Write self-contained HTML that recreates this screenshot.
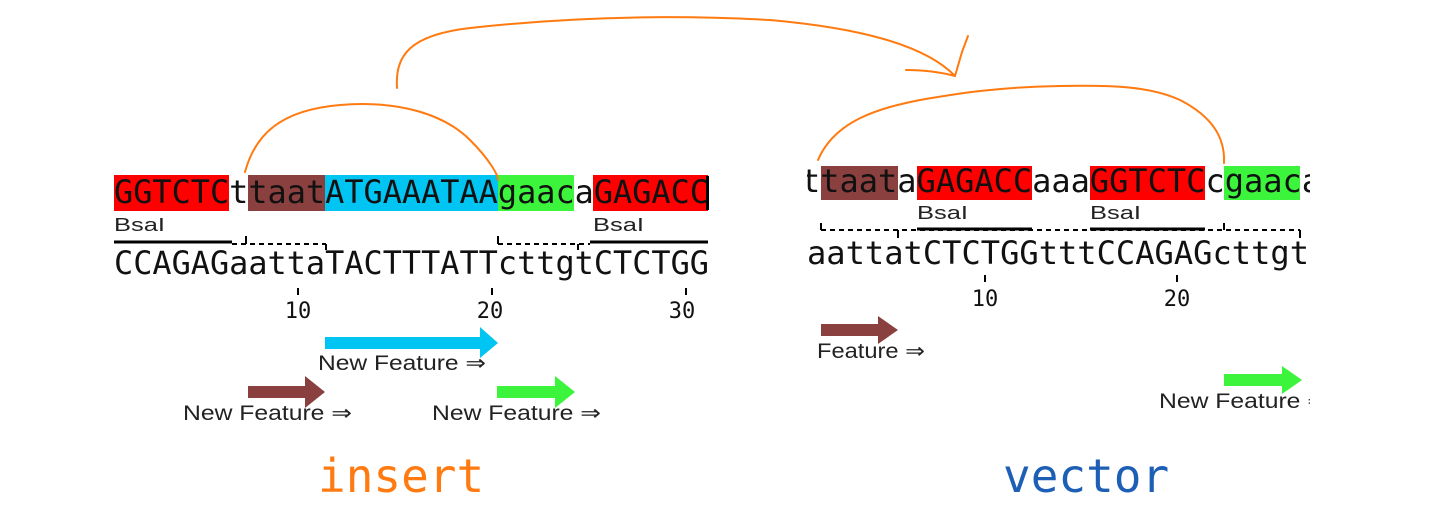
<!DOCTYPE html>
<html><head><meta charset="utf-8"><style>
html,body{margin:0;padding:0;background:#fff;}
svg{display:block}
.m{font-family:"DejaVu Sans Mono","Liberation Mono",monospace;font-size:32px;fill:#111}
.s{font-family:"Liberation Sans",sans-serif;font-size:18px;fill:#222}
.f{font-family:"Liberation Sans",sans-serif;font-size:21px;fill:#222}
.n{font-family:"DejaVu Sans Mono","Liberation Mono",monospace;font-size:22px;fill:#111}
</style></head><body>
<svg width="1453" height="517" viewBox="0 0 1453 517" xmlns="http://www.w3.org/2000/svg">
<defs><clipPath id="vc"><rect x="807" y="0" width="503" height="517"/></clipPath></defs>
<!-- INSERT -->
<rect x="114" y="175" width="115" height="36" fill="#ff0000"/>
<rect x="248" y="175" width="77" height="36" fill="#8b4040"/>
<rect x="325" y="175" width="173" height="36" fill="#00c4f2"/>
<rect x="498" y="175" width="76" height="36" fill="#3cf43c"/>
<rect x="593" y="175" width="115" height="36" fill="#ff0000"/>
<rect x="706" y="176" width="3" height="34" fill="#000"/>
<text x="114" y="203" class="m" textLength="595" lengthAdjust="spacingAndGlyphs">GGTCTCttaatATGAAATAAgaacaGAGACC</text>
<text x="114" y="231" class="s" textLength="51" lengthAdjust="spacingAndGlyphs">BsaI</text>
<text x="593" y="231" class="s" textLength="51" lengthAdjust="spacingAndGlyphs">BsaI</text>
<g stroke="#000" stroke-width="3"><line x1="114" y1="242" x2="232" y2="242"/><line x1="590" y1="242" x2="708" y2="242"/></g>
<g stroke="#000" stroke-width="2" stroke-dasharray="5,4" fill="none"><line x1="232" y1="244" x2="326" y2="244"/><line x1="498" y1="244" x2="590" y2="244"/></g>
<g stroke="#000" stroke-width="2"><line x1="246" y1="236" x2="246" y2="244"/><line x1="326" y1="244" x2="326" y2="250"/><line x1="498" y1="236" x2="498" y2="244"/><line x1="578" y1="244" x2="578" y2="250"/></g>
<text x="114" y="274" class="m" textLength="595" lengthAdjust="spacingAndGlyphs">CCAGAGaattaTACTTTATTcttgtCTCTGG</text>
<g stroke="#000" stroke-width="2"><line x1="298" y1="288" x2="298" y2="295"/><line x1="492" y1="288" x2="492" y2="295"/><line x1="686" y1="288" x2="686" y2="295"/></g>
<text x="298" y="318" class="n" text-anchor="middle">10</text>
<text x="490" y="318" class="n" text-anchor="middle">20</text>
<text x="682" y="318" class="n" text-anchor="middle">30</text>
<polygon points="325,337 480,337 480,327 498,343 480,358 480,349 325,349" fill="#00c4f2"/>
<text x="318" y="370" class="f" textLength="168" lengthAdjust="spacingAndGlyphs">New Feature ⇒</text>
<polygon points="248,386 305,386 305,376 325,392 305,408 305,398 248,398" fill="#8b4040"/>
<text x="183" y="420" class="f" textLength="169" lengthAdjust="spacingAndGlyphs">New Feature ⇒</text>
<polygon points="497,386 555,386 555,376 575,392 555,408 555,398 497,398" fill="#3cf43c"/>
<text x="432" y="420" class="f" textLength="169" lengthAdjust="spacingAndGlyphs">New Feature ⇒</text>
<!-- VECTOR -->
<g clip-path="url(#vc)">
<rect x="821" y="166" width="77" height="34" fill="#8b4040"/>
<rect x="917" y="166" width="115" height="34" fill="#ff0000"/>
<rect x="1090" y="166" width="115" height="34" fill="#ff0000"/>
<rect x="1224" y="166" width="76" height="34" fill="#3cf43c"/>
<text x="801" y="192" class="m" textLength="520" lengthAdjust="spacingAndGlyphs">ttaataGAGACCaaaGGTCTCcgaaca</text>
<text x="917" y="219" class="s" textLength="51" lengthAdjust="spacingAndGlyphs">BsaI</text>
<text x="1090" y="219" class="s" textLength="51" lengthAdjust="spacingAndGlyphs">BsaI</text>
<g stroke="#000" stroke-width="2" stroke-dasharray="5,4"><line x1="821" y1="230" x2="1300" y2="230"/></g>
<g stroke="#000" stroke-width="3"><line x1="917" y1="229" x2="1032" y2="229"/><line x1="1090" y1="229" x2="1205" y2="229"/></g>
<g stroke="#000" stroke-width="2"><line x1="821" y1="223" x2="821" y2="230"/><line x1="898" y1="230" x2="898" y2="238"/><line x1="1224" y1="223" x2="1224" y2="230"/><line x1="1300" y1="230" x2="1300" y2="238"/></g>
<text x="807" y="264" class="m" textLength="502" lengthAdjust="spacingAndGlyphs">aattatCTCTGGtttCCAGAGcttgt</text>
<g stroke="#000" stroke-width="2"><line x1="985" y1="275" x2="985" y2="282"/><line x1="1177" y1="275" x2="1177" y2="282"/></g>
<text x="985" y="306" class="n" text-anchor="middle">10</text>
<text x="1177" y="306" class="n" text-anchor="middle">20</text>
<polygon points="821,324 878,324 878,316 898,330 878,344 878,336 821,336" fill="#8b4040"/>
<text x="817" y="358" class="f" textLength="108" lengthAdjust="spacingAndGlyphs">Feature ⇒</text>
<polygon points="1224,374 1282,374 1282,366 1302,380 1282,394 1282,386 1224,386" fill="#3cf43c"/>
<text x="1159" y="408" class="f" textLength="169" lengthAdjust="spacingAndGlyphs">New Feature ⇒</text>
</g>
<!-- orange curves -->
<g stroke="#ff7a10" stroke-width="2" fill="none" stroke-linecap="round" stroke-linejoin="round">
<path d="M245,172 C255,135 280,110 340,105 C400,100 445,115 470,140 C490,160 498,175 498,180"/>
<path d="M397,88 C395,55 410,35 470,28 C560,18 660,14 770,20 C860,28 925,45 955,76"/>
<path d="M906,70 C925,70 940,72 955,76 L962,52 L968,36"/>
<path d="M818,160 C835,120 880,108 920,100 C960,93 1000,87 1060,86 C1110,85 1150,86 1180,100 C1215,118 1225,140 1224,163"/>
</g>
<text x="318" y="492" style="font-family:'DejaVu Sans Mono','Liberation Mono',monospace;font-size:46px;fill:#ff7a10">insert</text>
<text x="1003" y="492" style="font-family:'DejaVu Sans Mono','Liberation Mono',monospace;font-size:46px;fill:#1c5fb4">vector</text>
</svg>
</body></html>
